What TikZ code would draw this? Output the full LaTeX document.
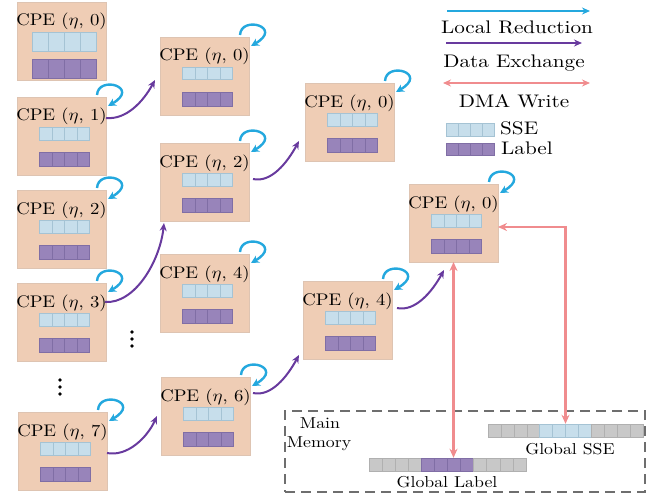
\documentclass[tikz,border=0pt]{standalone}
\usetikzlibrary{arrows.meta,calc}
\definecolor{boxfill}{RGB}{239,205,181}
\definecolor{boxdraw}{RGB}{222,196,178}
\definecolor{ssefill}{RGB}{199,222,235}
\definecolor{ssedraw}{RGB}{165,195,212}
\definecolor{labfill}{RGB}{152,132,186}
\definecolor{labdraw}{RGB}{128,110,165}
\definecolor{grayfill}{RGB}{200,200,200}
\definecolor{graydraw}{RGB}{176,176,176}
\definecolor{loopc}{RGB}{36,168,222}
\definecolor{datac}{RGB}{104,58,158}
\definecolor{dmac}{RGB}{240,140,142}
\definecolor{memc}{RGB}{110,110,110}
\tikzset{
 cpebox/.style={draw=boxdraw, fill=boxfill, line width=0.6pt, minimum width=89pt, minimum height=78pt, inner sep=0pt, outer sep=0pt, anchor=north west},
 plaintext/.style={font=\fontsize{10}{12}\selectfont, inner sep=0pt, anchor=base},
 ssecell/.style={draw=ssedraw, fill=ssefill, line width=0.5pt, inner sep=0pt, outer sep=0pt},
 labcell/.style={draw=labdraw, fill=labfill, line width=0.5pt, inner sep=0pt, outer sep=0pt},
 graycell/.style={draw=graydraw, fill=grayfill, line width=0.5pt, inner sep=0pt, outer sep=0pt},
 looparrow/.style={draw=loopc, line width=2.4pt, -{Stealth[length=8pt,width=8pt]}},
 dataarrow/.style={draw=datac, line width=2pt, -{Stealth[length=8pt,width=7pt]}},
 dmaarrow/.style={draw=dmac, line width=2.4pt, {Stealth[length=9pt,width=8pt]}-{Stealth[length=9pt,width=8pt]}},
 dotmark/.style={fill=black, circle, inner sep=0pt, minimum size=3.6pt},
}
\newcommand\cpetxt[1]{\scalebox{1.87}[1.68]{#1}}
\newcommand\legtxt[1]{\scalebox{2.12}[1.82]{#1}}
\newcommand\memtxt[1]{\scalebox{1.78}[1.58]{#1}}
\newcommand\cpeunit[9]{%
 \node[cpebox] (#1) at (#2,#3) {};
 \node[plaintext] (#1-t) at ($(#1.north)+(0,24)$) {\cpetxt{CPE ($\eta$, #4)}};
 \foreach \i in {1,...,4} {
   \node[ssecell, minimum width=#5pt, minimum height=#6pt] (#1-s\i) at ($(#1.north)+({3+(\i-2.5)*#5},#8)$) {};
   \node[labcell, minimum width=#5pt, minimum height=#7pt] (#1-l\i) at ($(#1.north)+({3+(\i-2.5)*#5},#9)$) {};
 }
}
\newcommand\cpeloop[1]{%
 \draw[looparrow] ($(#1.north east)+(-9,-2)$) .. controls +(1,-20) and +(33,-19) .. ($(#1.north east)+(2,9)$);
}
\begin{document}
\begin{tikzpicture}[x=1pt,y=-1pt]
\useasboundingbox (0,0) rectangle (667,495);
% column 1
\cpeunit{c1a}{17}{2}{0}{16}{19}{19}{39.5}{66.5}
\cpeunit{c1b}{17}{97}{1}{12.5}{12.5}{14}{36.5}{62.5}
\cpeunit{c1c}{17}{190}{2}{12.5}{12.5}{14}{36.5}{62.5}
\cpeunit{c1d}{17}{283}{3}{12.5}{12.5}{14}{36.5}{62.5}
\cpeunit{c1h}{18}{412}{7}{12.5}{12.5}{14}{36.5}{62.5}
% column 2
\cpeunit{c2a}{160}{37}{0}{12.5}{12.5}{14}{36.5}{62.5}
\cpeunit{c2c}{160}{143}{2}{12.5}{12.5}{14}{36.5}{62.5}
\cpeunit{c2e}{160}{254}{4}{12.5}{12.5}{14}{36.5}{62.5}
\cpeunit{c2g}{161}{377}{6}{12.5}{12.5}{14}{36.5}{62.5}
% column 3
\cpeunit{c3a}{305}{83}{0}{12.5}{12.5}{14}{36.5}{62.5}
\cpeunit{c3e}{303}{281}{4}{12.5}{12.5}{14}{36.5}{62.5}
% column 4
\cpeunit{c4a}{409}{184}{0}{12.5}{12.5}{14}{36.5}{62.5}
% loops
\foreach \b in {c1b,c1c,c1d,c1h,c2a,c2c,c2e,c2g,c3a,c3e,c4a} {\cpeloop{\b}}
% data exchange
\draw[dataarrow] ($(c1b.north east)+(0,21)$) .. controls +(20,2) and +(-12,22) .. ($(c2a.north west)+(-5,43)$);
\draw[dataarrow] ($(c1d.north east)+(-1,19)$) .. controls +(30,2) and +(-4,38) .. ($(c2c.south west)+(4,2)$);
\draw[dataarrow] ($(c1h.north east)+(0,41)$) .. controls +(20,4) and +(-10,22) .. ($(c2g.north west)+(-4,39)$);
\draw[dataarrow] ($(c2c.north east)+(4,36)$) .. controls +(18,4) and +(-12,22) .. ($(c3a.north west)+(-6,58)$);
\draw[dataarrow] ($(c2g.north east)+(3,16)$) .. controls +(18,4) and +(-12,22) .. ($(c3e.south west)+(-4,-4)$);
\draw[dataarrow] ($(c3e.north east)+(5,27)$) .. controls +(18,4) and +(-12,22) .. ($(c4a.south west)+(35,8)$);
% dots
\foreach \k/\yy in {1/380,2/387,3/394} {\node[dotmark] (da\k) at (60,\yy) {};}
\foreach \k/\yy in {1/332,2/339,3/346} {\node[dotmark] (db\k) at (132,\yy) {};}
% main memory
\node[draw=memc, dashed, dash pattern=on 10pt off 6pt, line width=1.8pt, minimum width=360pt, minimum height=81pt, inner sep=0pt] (mem) at (465,451.5) {};
\node[plaintext] (memt1) at (320,428) {\memtxt{Main}};
\node[plaintext] (memt2) at (319,447) {\memtxt{Memory}};
\node[inner sep=0pt, minimum width=155pt, minimum height=13pt] (gs) at (565.5,430.5) {};
\foreach \s [count=\i] in {graycell,graycell,graycell,graycell,ssecell,ssecell,ssecell,ssecell,graycell,graycell,graycell,graycell}
  {\node[\s, minimum width=12.92pt, minimum height=13pt] (gs-\i) at ({488+(\i-0.5)*12.92},430.5) {};}
\node[plaintext] (gst) at (570,454) {\memtxt{Global SSE}};
\node[inner sep=0pt, minimum width=157pt, minimum height=13pt] (gl) at (447.5,464.5) {};
\foreach \s [count=\i] in {graycell,graycell,graycell,graycell,labcell,labcell,labcell,labcell,graycell,graycell,graycell,graycell}
  {\node[\s, minimum width=13.08pt, minimum height=13pt] (gl-\i) at ({369+(\i-0.5)*13.08},464.5) {};}
\node[plaintext] (glt) at (447,487) {\memtxt{Global Label}};
% DMA arrows
\draw[dmaarrow] (c4a.south) -- (c4a.south |- gl.north);
\draw[dmaarrow] ($(c4a.east)+(0,4)$) -| (gs.north);
% legend
\coordinate (lr1) at (447,11); \coordinate (lr2) at (590,11);
\draw[draw=loopc, line width=2pt, -{Stealth[length=8pt,width=7pt]}] (lr1) -- (lr2);
\node[plaintext] (lrt) at (517,34) {\legtxt{Local Reduction}};
\coordinate (de1) at (446,43); \coordinate (de2) at (582,43);
\draw[draw=datac, line width=2pt, -{Stealth[length=8pt,width=7pt]}] (de1) -- (de2);
\node[plaintext] (det) at (514,68) {\legtxt{Data Exchange}};
\coordinate (dm1) at (443,83); \coordinate (dm2) at (590,83);
\draw[draw=dmac, line width=2pt, {Stealth[length=8pt,width=7pt]}-{Stealth[length=8pt,width=7pt]}] (dm1) -- (dm2);
\node[plaintext] (dmt) at (514,107) {\legtxt{DMA Write}};
\foreach \i in {1,...,4} {
  \node[ssecell, minimum width=12pt, minimum height=13pt] (ls-\i) at ({446+(\i-0.5)*12},129.5) {};
  \node[labcell, minimum width=12pt, minimum height=12pt] (ll-\i) at ({446+(\i-0.5)*12},149) {};
}
\node[plaintext, anchor=base west] (lst) at (500,135) {\legtxt{SSE}};
\node[plaintext, anchor=base west] (llt) at (501,154) {\legtxt{Label}};
\end{tikzpicture}
\end{document}
